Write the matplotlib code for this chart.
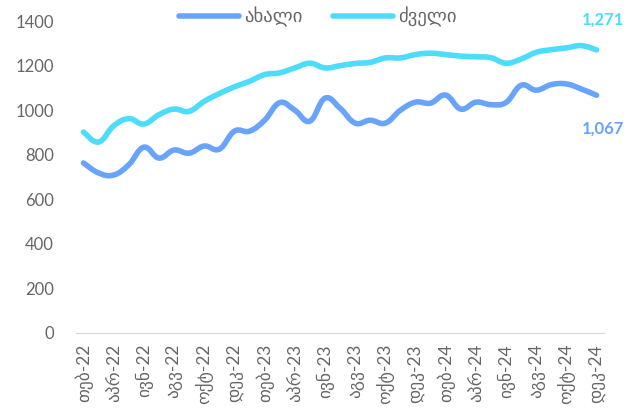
import matplotlib
matplotlib.use("Agg")
import matplotlib.pyplot as plt
from matplotlib.path import Path
from matplotlib.patches import PathPatch
from matplotlib.lines import Line2D

plt.rcParams["font.family"] = ["Lato", "DejaVu Sans"]

# monthly, feb-22 .. dec-24
months = ["იან", "თებ", "მარ", "აპრ", "მაი", "ივნ", "ივლ", "აგვ", "სექ", "ოქტ", "ნოე", "დეკ"]
years = ["22", "23", "24"]
new_vals = [763, 718, 709, 755, 834, 785, 821, 807, 839, 825, 906, 906,
            955, 1034, 1000, 951, 1054, 1009, 942, 955, 942, 1000, 1036, 1032,
            1068, 1005, 1036, 1025, 1035, 1112, 1090, 1115, 1118, 1095, 1067]
old_vals = [902, 857, 930, 962, 938, 980, 1005, 995, 1040, 1075, 1105, 1130,
            1160, 1168, 1190, 1211, 1190, 1200, 1210, 1215, 1235, 1235, 1250, 1256,
            1250, 1243, 1240, 1236, 1211, 1230, 1260, 1272, 1280, 1290, 1271]
series_names = ["ახალი", "ძველი"]

labels = []
for y in years:
    for m in months:
        labels.append(f"{m}-{y}")
labels = labels[1:]  # starts in february

blue = "#68a4fb"
cyan = "#4ddcfa"
grey = "#666666"


def smooth_path(xs, ys, t=0.2):
    # bezier segments through every point (catmull-rom style handles)
    verts = [(xs[0], ys[0])]
    codes = [Path.MOVETO]
    n = len(xs)
    for i in range(n - 1):
        x0, y0 = xs[max(i - 1, 0)], ys[max(i - 1, 0)]
        x1, y1 = xs[i], ys[i]
        x2, y2 = xs[i + 1], ys[i + 1]
        x3, y3 = xs[min(i + 2, n - 1)], ys[min(i + 2, n - 1)]
        c1 = (x1 + (x2 - x0) * t, y1 + (y2 - y0) * t)
        c2 = (x2 - (x3 - x1) * t, y2 - (y3 - y1) * t)
        verts += [c1, c2, (x2, y2)]
        codes += [Path.CURVE4] * 3
    return Path(verts, codes)


fig = plt.figure(figsize=(6.28, 4.15), dpi=100)
ax = fig.add_axes([0.121, 0.198, 0.841, 0.751])

x = list(range(len(labels)))
for vals, col in [(new_vals, blue), (old_vals, cyan)]:
    ax.add_patch(PathPatch(smooth_path(x, vals), fill=False, edgecolor=col, lw=4,
                           capstyle="round", joinstyle="round"))

ax.set_xlim(-0.5, len(labels) - 0.5)
ax.set_ylim(0, 1400)
ax.set_yticks(range(0, 1401, 200))
ax.set_xticks(x[::2])
ax.set_xticklabels(labels[::2], rotation=90, fontsize=12.5, color=grey)
ax.tick_params(axis="y", labelsize=12, labelcolor=grey, length=0, pad=16)
ax.tick_params(axis="x", length=0, pad=8)

for s in ["top", "right", "left"]:
    ax.spines[s].set_visible(False)
ax.spines["bottom"].set_color("#d9d9d9")

# end labels
ax.annotate(f"{old_vals[-1]:,}", (x[-1], old_vals[-1]), xytext=(20, 22), textcoords="offset points",
            ha="right", va="center", color=cyan, fontsize=12, fontweight="bold", annotation_clip=False)
ax.annotate(f"{new_vals[-1]:,}", (x[-1], new_vals[-1]), xytext=(20, -24), textcoords="offset points",
            ha="right", va="center", color=blue, fontsize=12, fontweight="bold", annotation_clip=False)

handles = [Line2D([], [], color=blue, lw=4, solid_capstyle="round"),
           Line2D([], [], color=cyan, lw=4, solid_capstyle="round")]
leg = fig.legend(handles, series_names, loc="center", bbox_to_anchor=(0.506, 0.959), ncol=2, frameon=False,
                 handlelength=3.2, columnspacing=1.6, handletextpad=0.3, fontsize=13.5)
for t in leg.get_texts():
    t.set_color(grey)

fig.savefig("out.png", dpi=100)
